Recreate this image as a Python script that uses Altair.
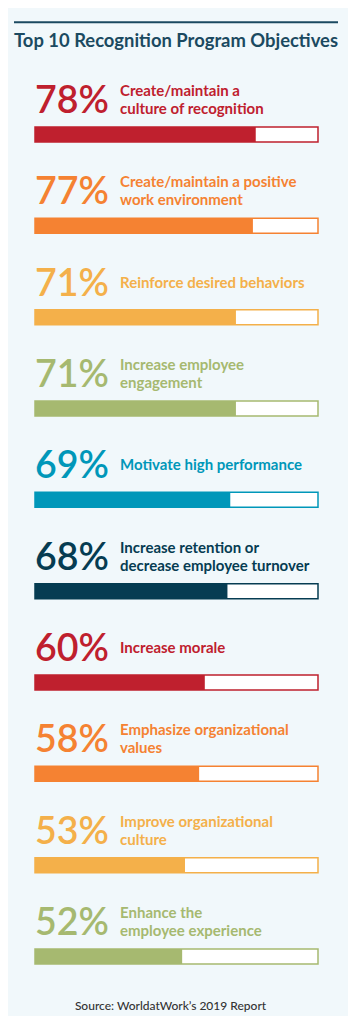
import altair as alt
import pandas as pd

# ---- data ----
values = [78, 77, 71, 71, 69, 68, 60, 58, 53, 52]
labels = [
    "Create/maintain a\nculture of recognition",
    "Create/maintain a positive\nwork environment",
    "Reinforce desired behaviors",
    "Increase employee\nengagement",
    "Motivate high performance",
    "Increase retention or\ndecrease employee turnover",
    "Increase morale",
    "Emphasize organizational\nvalues",
    "Improve organizational\nculture",
    "Enhance the\nemployee experience",
]
colors = ["#bf202e", "#f58232", "#f4b04a", "#a6b970", "#0097b9",
          "#063c52", "#bf202e", "#f58232", "#f4b04a", "#a6b970"]
title_text = "Top 10 Recognition Program Objectives"
source_text = "Source: WorldatWork\u2019s 2019 Report"

top, bot, mid = [], [], []
for lab in labels:
    parts = lab.split("\n")
    if len(parts) == 2:
        top.append(parts[0]); bot.append(parts[1]); mid.append("")
    else:
        top.append(""); bot.append(""); mid.append(parts[0])

df = pd.DataFrame({
    "value": values, "top": top, "bot": bot, "mid": mid, "color": colors,
})

BG = "#f1f8fb"
DARK = "#1b4a61"
FONT = "Lato"

base = alt.Chart(df).transform_window(
    row="row_number()"
).transform_calculate(
    full="100", pct="datum.value + '%'"
)

xs = alt.Scale(domain=[0, 100], range=[27, 310], zero=True)
ys = alt.Scale(domain=[1, 10], range=[121.5, 953.5])
Y = alt.Y("row:Q", scale=ys, axis=None)

outline = base.mark_bar(size=15, orient="horizontal", fill="white", strokeWidth=1.5).encode(
    x=alt.X("full:Q", scale=xs, axis=None, stack=None),
    y=Y,
    stroke=alt.Color("color:N", scale=None),
)
fillbar = base.mark_bar(size=15, orient="horizontal").encode(
    x=alt.X("value:Q", scale=xs, axis=None, stack=None),
    y=Y,
    fill=alt.Color("color:N", scale=None),
)
nums = base.mark_text(font=FONT, fontSize=37.5, fontWeight=600, align="left",
                      baseline="alphabetic", dy=-21.5).encode(
    x=alt.datum(0, scale=xs),
    y=Y,
    text="pct:N",
    color=alt.Color("color:N", scale=None),
)

def lab_layer(field, dy):
    return base.mark_text(font=FONT, fontSize=15, fontWeight="bold", align="left",
                          baseline="alphabetic", dy=dy).encode(
        x=alt.value(112),
        y=Y,
        text=f"{field}:N",
        color=alt.Color("color:N", scale=None),
    )

deco_df = pd.DataFrame({"t": [title_text], "s": [source_text]})
deco = alt.Chart(deco_df)
rule = deco.mark_rule(color=DARK, strokeWidth=2).encode(
    x=alt.value(6), x2=alt.value(330), y=alt.value(14.3))
title = deco.mark_text(font=FONT, fontSize=18.4, fontWeight="bold", color=DARK,
                       align="center", baseline="alphabetic").encode(
    x=alt.value(168), y=alt.value(38.7), text="t:N")
source = deco.mark_text(font=FONT, fontSize=12, fontWeight=500, color="#333333",
                        align="center", baseline="alphabetic").encode(
    x=alt.value(162.5), y=alt.value(1002), text="s:N")

chart = alt.layer(
    outline, fillbar, nums,
    lab_layer("top", -38.5), lab_layer("bot", -20.5), lab_layer("mid", -29.5),
    rule, title, source,
).properties(
    width=340, height=1008, background=BG, padding=0,
    autosize=alt.AutoSizeParams(type="none"),
).configure_view(stroke=None)

chart.save("out.html", embed_options={"renderer": "svg", "actions": False})
